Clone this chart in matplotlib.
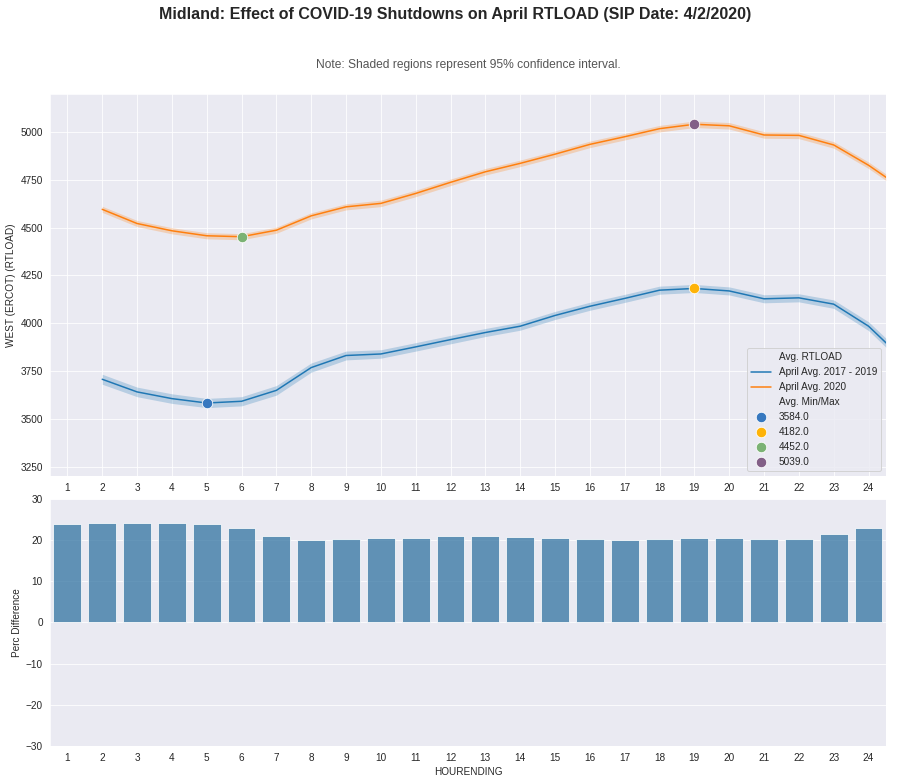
import numpy as np
import matplotlib
matplotlib.use("Agg")
import matplotlib.pyplot as plt
import seaborn as sns

sns.set_style("darkgrid")
plt.rcParams['font.family'] = ['Liberation Sans', 'DejaVu Sans']

# datos
horas = list(range(1, 25))
carga_2017_2019 = [3708, 3642, 3607, 3584, 3593, 3650, 3769, 3832, 3840, 3877, 3915, 3952,
                   3985, 4041, 4089, 4130, 4173, 4182, 4169, 4128, 4133, 4100, 3985, 3812]
carga_2020 = [4595, 4521, 4483, 4457, 4452, 4486, 4561, 4608, 4626, 4678, 4736, 4791,
              4835, 4883, 4934, 4974, 5016, 5039, 5031, 4983, 4981, 4931, 4825, 4700]
# medio ancho del intervalo de confianza (95%)
ic_2017_2019 = [26, 25, 25, 24, 24, 25, 24, 23, 22, 22, 22, 21,
                21, 21, 21, 21, 21, 21, 21, 21, 21, 22, 23, 24]
ic_2020 = [16, 16, 16, 16, 16, 16, 16, 16, 17, 17, 17, 17,
           17, 17, 17, 17, 17, 17, 17, 17, 17, 17, 17, 17]
perc_diff = [23.9, 24.1, 24.1, 24.1, 23.9, 22.9, 21.0, 20.0, 20.2, 20.4, 20.6, 20.9,
             21.1, 20.7, 20.4, 20.2, 20.0, 20.2, 20.4, 20.4, 20.2, 20.2, 21.4, 22.9]
etiquetas = [str(h) for h in horas]

# puntos min/max
min_max_hora = [4, 18, 5, 18]
min_max_valor = [3584.0, 4182.0, 4452.0, 5039.0]
min_max_color = ["#3778bf", "#feb308", "#7bb274", "#825f87"]

fig = plt.figure(figsize=(897 / 72, 782 / 72), dpi=72)
ax1 = fig.add_axes([0.0557, 0.3913, 0.932, 0.4885])
ax2 = fig.add_axes([0.0557, 0.046, 0.932, 0.316])

x = np.array(horas)
b = np.array(carga_2017_2019)
o = np.array(carga_2020)
ax1.fill_between(x, b - np.array(ic_2017_2019), b + np.array(ic_2017_2019), color="#1f77b4", alpha=0.25, lw=0)
ax1.fill_between(x, o - np.array(ic_2020), o + np.array(ic_2020), color="#ff7f0e", alpha=0.25, lw=0)
ax1.plot(x, b, color="#1f77b4", lw=1.5, label="April Avg. 2017 - 2019")
ax1.plot(x, o, color="#ff7f0e", lw=1.5, label="April Avg. 2020")

# titulos de grupo en la leyenda (estilo seaborn)
h_tit1, = ax1.plot([], [], color="none", label="Avg. RTLOAD")
h_tit2, = ax1.plot([], [], color="none", label="Avg. Min/Max")
puntos = []
for hr, val, col in zip(min_max_hora, min_max_valor, min_max_color):
    p = ax1.scatter([hr], [val], s=110, color=col, edgecolor="white", linewidth=0.8, zorder=5, label=str(val))
    puntos.append(p)

lineas = ax1.get_lines()[:2]
handles = [h_tit1] + lineas + [h_tit2] + puntos
labels = [h.get_label() for h in handles]
ax1.legend(handles, labels, loc="lower right", fontsize=10, frameon=True)

ax1.set_xlim(-0.5, 23.5)
ax1.set_xticks(range(24))
ax1.set_xticklabels(etiquetas)
ax1.set_ylim(3203, 5197)
ax1.set_yticks(range(3250, 5001, 250))
ax1.set_ylabel("WEST (ERCOT) (RTLOAD)", fontsize=10)
ax1.tick_params(labelsize=10)

ax2.bar(range(24), perc_diff, width=0.8, color="#3274a1", alpha=0.75)
ax2.set_xlim(-0.5, 23.5)
ax2.set_xticks(range(24))
ax2.set_xticklabels(etiquetas)
ax2.set_ylim(-30, 30)
ax2.set_yticks(range(-30, 31, 10))
ax2.grid(False, axis="x")
ax2.set_xlabel("HOURENDING", fontsize=10)
ax2.set_ylabel("Perc Difference", fontsize=10)
ax2.tick_params(labelsize=10)

fig.text(0.507, 0.982, "Midland: Effect of COVID-19 Shutdowns on April RTLOAD (SIP Date: 4/2/2020)",
         ha="center", va="center", fontsize=16, fontweight="bold", color="#262626")
fig.text(0.5217, 0.917, "Note: Shaded regions represent 95% confidence interval.",
         ha="center", va="center", fontsize=12, color="#555555")

fig.savefig("out.png", dpi=72)
